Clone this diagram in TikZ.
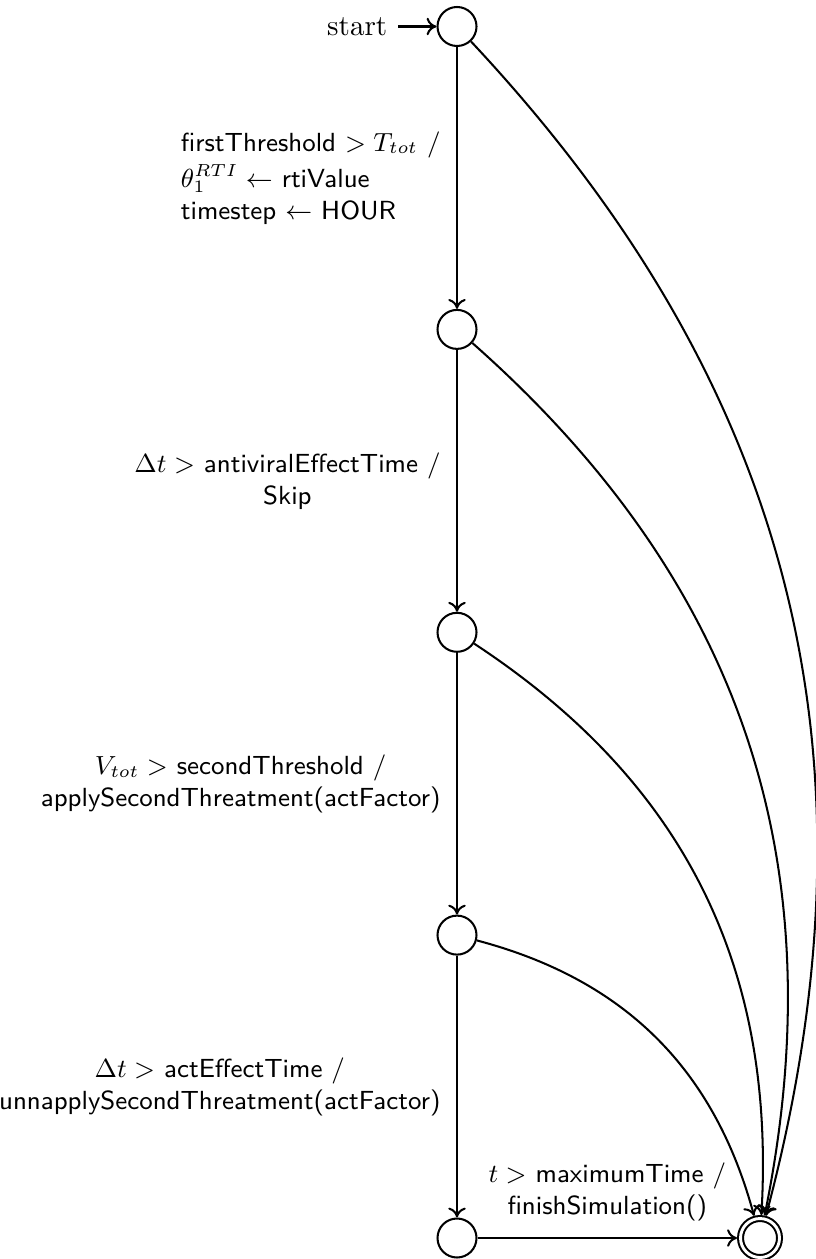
\documentclass[tikz,border=0pt]{standalone}
\usetikzlibrary{arrows.meta}
\begin{document}
\begin{tikzpicture}[x=0.3436pt, y=0.3436pt, line width=0.7pt,
  >={To[length=3.4pt, width=6pt]},
  stt/.style={circle, draw, minimum size=13.4pt, inner sep=0pt},
  fin/.style={stt, double, double distance=1pt, outer sep=1.2pt},
  lbl/.style={font=\small\sffamily, align=center}]
\useasboundingbox (0,0) rectangle (815,-1259);
% states
\node[stt] (q0) at (457,-26.5) {};
\node[stt] (q1) at (457,-329.4) {};
\node[stt] (q2) at (457,-632.3) {};
\node[stt] (q3) at (457,-935.1) {};
\node[stt] (q4) at (457,-1238) {};
\node[fin] (qf) at (760,-1238) {};
% initial marker
\node[anchor=east] (start) at (398,-26.5) {start};
\draw[->] (start) -- (q0);
% main chain
\draw[->] (q0) -- node[lbl, left, align=left, xshift=-2pt]
  {firstThreshold $> T_{tot}$ /\\[1.5pt] $\theta_1^{RTI} \leftarrow$ rtiValue\\ timestep $\leftarrow$ HOUR} (q1);
\draw[->] (q1) -- node[lbl, left, xshift=-2pt]
  {$\Delta t >$ antiviralEffectTime /\\ Skip} (q2);
\draw[->] (q2) -- node[lbl, left, xshift=-2pt]
  {$V_{tot} >$ secondThreshold /\\ applySecondThreatment(actFactor)} (q3);
\draw[->] (q3) -- node[lbl, left, xshift=-2pt]
  {$\Delta t >$ actEffectTime /\\ unnapplySecondThreatment(actFactor)} (q4);
\draw[->] (q4) -- node[lbl, above, yshift=2pt]
  {$t >$ maximumTime /\\ finishSimulation()} (qf);
% early exits to the final state
\draw[->] (q0) to[bend left=29] (qf);
\draw[->] (q1) to[bend left=30] (qf);
\draw[->] (q2) to[bend left=30] (qf);
\draw[->] (q3) to[bend left=30] (qf);
\end{tikzpicture}
\end{document}
